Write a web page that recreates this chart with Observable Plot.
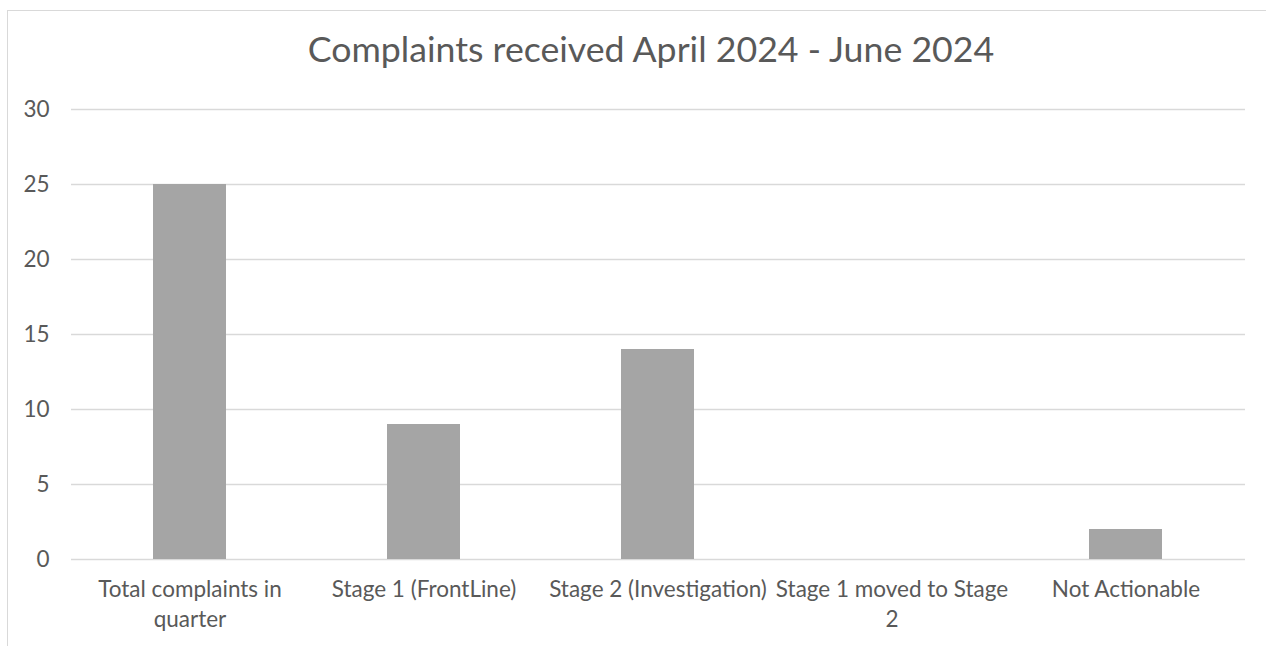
<!DOCTYPE html>
<html>
<head>
<meta charset="utf-8">
<script src="https://cdn.jsdelivr.net/npm/d3@7"></script>
<script src="https://cdn.jsdelivr.net/npm/@observablehq/plot@0.6"></script>
<style>
  html, body { margin: 0; padding: 0; background: #fff; overflow: hidden; }
  #wrap { position: relative; width: 1266px; height: 646px; }
  #frame { position: absolute; left: 7px; top: 10px; width: 1300px; height: 700px; border: 1px solid #d9d9d9; box-sizing: border-box; }
  #title { position: absolute; left: 0; width: 1302px; top: 28px; text-align: center; font-family: Lato, sans-serif; font-size: 35.7px; color: #595959; line-height: 1.2; }
  #chart { position: absolute; left: 0; top: 0; }
</style>
</head>
<body>
<div id="wrap">
  <div id="frame"></div>
  <div id="title">Complaints received April 2024 - June 2024</div>
  <div id="chart"></div>
</div>
<script>
const categories = ["Total complaints in quarter", "Stage 1 (FrontLine)", "Stage 2 (Investigation)", "Stage 1 moved to Stage 2", "Not Actionable"];
const tickLabels = ["Total complaints in\nquarter", "Stage 1 (FrontLine)", "Stage 2 (Investigation)", "Stage 1 moved to Stage\n2", "Not Actionable"];
const values = [25, 9, 14, 0, 2];
const yTicks = [0, 5, 10, 15, 20, 25, 30];

const data = categories.map((c, i) => ({category: c, value: values[i]}));
const labelOf = new Map(categories.map((c, i) => [c, tickLabels[i]]));

const chart = Plot.plot({
  width: 1266,
  height: 646,
  marginTop: 109,
  marginBottom: 87,
  marginLeft: 71,
  marginRight: 21,
  style: {fontFamily: "Lato, sans-serif", fontSize: "22.5px", color: "#595959", background: "transparent"},
  x: {domain: categories, paddingInner: 0.687, paddingOuter: 0.3435, label: null},
  y: {domain: [0, 30], label: null},
  marks: [
    Plot.gridY(yTicks, {stroke: "#d9d9d9", strokeOpacity: 1, strokeWidth: 1.5}),
    Plot.barY(data, {x: "category", y: "value", fill: "#a5a5a5"}),
    Plot.axisX({tickSize: 0, tickPadding: 16, tickFormat: d => labelOf.get(d), lineHeight: 1.33, fill: "#595959"}),
    Plot.axisY(yTicks, {tickSize: 0, tickPadding: 22, fill: "#595959"})
  ]
});
document.getElementById("chart").appendChild(chart);
</script>
</body>
</html>
